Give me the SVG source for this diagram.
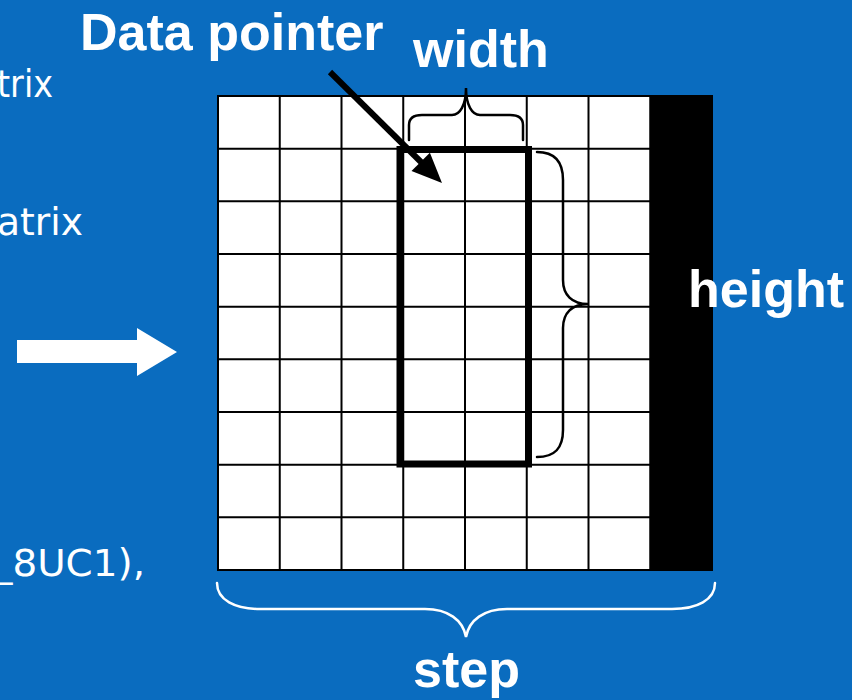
<svg xmlns="http://www.w3.org/2000/svg" width="852" height="700" viewBox="0 0 852 700">
<style>
.big{font-family:"Liberation Sans",Arial,sans-serif;font-weight:bold;font-size:52px;fill:#fff}
.side{font-family:"DejaVu Sans",Verdana,sans-serif;font-size:37px;fill:#fff}
.grid{stroke:#000;stroke-width:2;fill:none}
.brace{fill:none;stroke-width:2.5;stroke-linecap:round}
</style>
<rect width="852" height="700" fill="#0A6CBF"/>
<g id="side-text">
<text class="side" x="-3" y="97" textLength="56" lengthAdjust="spacingAndGlyphs">trix</text>
<text class="side" x="-3" y="235" textLength="86" lengthAdjust="spacingAndGlyphs">atrix</text>
<text class="side" x="-7" y="576" textLength="152" lengthAdjust="spacingAndGlyphs">_8UC1),</text>
</g>
<g id="block-arrow">
<polygon points="17,340 137,340 137,328 177,352 137,376 137,363 17,363" fill="#fff"/>
</g>
<g id="matrix">
<rect x="218" y="96" width="494" height="474" fill="#fff"/>
<rect x="650" y="96" width="62" height="474" fill="#000"/>
<path class="grid" d="M279.75,96V570M341.5,96V570M403.25,96V570M465,96V570M526.75,96V570M588.5,96V570M650.25,96V570
M218,148.7H712M218,201.3H712M218,254H712M218,306.7H712M218,359.3H712M218,412H712M218,464.7H712M218,517.3H712"/>
<rect class="grid" x="218" y="96" width="494" height="474"/>
</g>
<g id="roi">
<rect x="400" y="149.5" width="128.5" height="314.5" fill="none" stroke="#000" stroke-width="7"/>
</g>
<g id="connectors">
<line x1="330" y1="72" x2="424" y2="165" stroke="#000" stroke-width="6"/>
<polygon points="442,183 411.5,171.1 429.9,152.7" fill="#000"/>
<path class="brace" stroke="#000" d="M409,140 L409,125 C409,118 414,115 422,115 L452,115 C460,115 466,105 466,88 C466,105 472,115 480,115 L510,115 C518,115 523,118 523,125 L523,140"/>
<path class="brace" stroke="#000" d="M537,152 C555,152 563,162 563,180 L563,280 C563,295 572,304 588,304 C572,304 563,313 563,328 L563,430 C563,448 555,457 537,457"/>
<path class="brace" stroke="#fff" stroke-width="3" d="M217,583 C217,600 235,609 260,609 L425,609 C448,609 463,620 466,637 C469,620 484,609 507,609 L672,609 C697,609 715,600 715,583"/>
</g>
<g id="labels">
<text class="big" x="80" y="50">Data pointer</text>
<text class="big" x="413" y="67">width</text>
<text class="big" x="688" y="307">height</text>
<text class="big" x="413" y="687">step</text>
</g>
</svg>
